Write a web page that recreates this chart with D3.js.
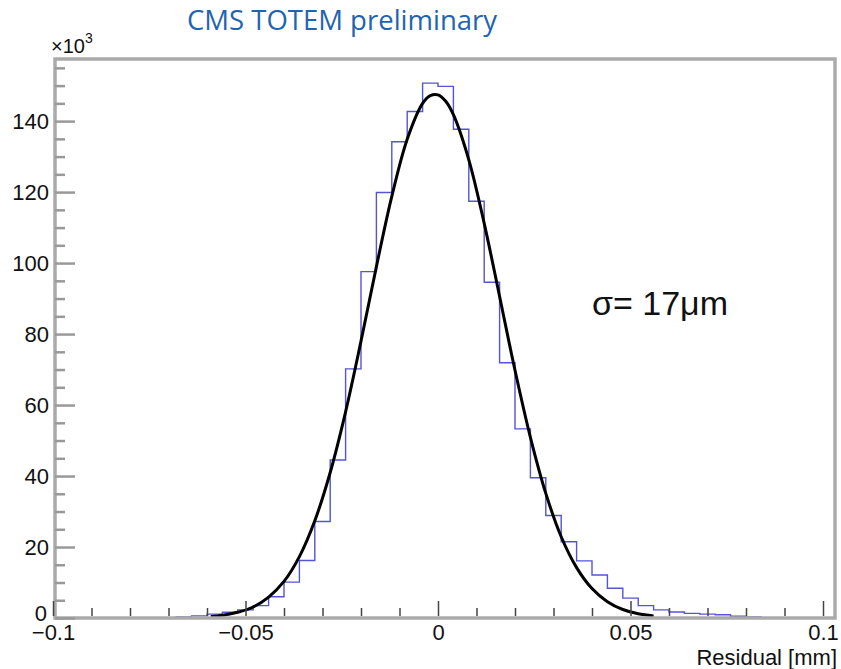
<!DOCTYPE html>
<html>
<head>
<meta charset="utf-8">
<script src="https://cdn.jsdelivr.net/npm/d3@7"></script>
<style>
    body { margin: 0; background: #fff; }
    svg { display: block; }
</style>
</head>
<body>
<div id="chart"></div>
<script>
// Histogram of residuals: lower bin edges [mm] and entries (x10^3)
var binWidth  = 0.004;
var binLow    = [-0.068, -0.064, -0.060, -0.056, -0.052, -0.048, -0.044, -0.040, -0.036, -0.032,
                 -0.028, -0.024, -0.020, -0.016, -0.012, -0.008, -0.004,  0.000,  0.004,  0.008,
                  0.012,  0.016,  0.020,  0.024,  0.028,  0.032,  0.036,  0.040,  0.044,  0.048,
                  0.052,  0.056,  0.060,  0.064,  0.068,  0.072,  0.076,  0.080];
var binCounts = [0.3, 0.6, 1.1, 1.6, 2.3, 3.5, 6.0, 10.1, 16.2, 27.2,
                 44.5, 70.2, 97.6, 119.9, 134.2, 142.7, 150.7, 149.8, 137.7, 117.4,
                 94.6, 71.9, 53.3, 39.5, 28.9, 21.5, 16.1, 12.1, 8.4, 5.6,
                 3.5, 2.3, 1.7, 1.3, 1.1, 0.9, 0.5, 0.3];

// Gaussian fit curve
var fitX = [-0.059, -0.056, -0.052, -0.048, -0.044, -0.040, -0.036, -0.032, -0.028, -0.024,
            -0.020, -0.016, -0.012, -0.008, -0.004, -0.002, 0.000, 0.002, 0.004, 0.008,
             0.012,  0.016,  0.020,  0.024,  0.028,  0.032, 0.036, 0.040, 0.044, 0.048,
             0.052,  0.056];
var fitY = [0.4, 0.8, 1.6, 3.1, 5.9, 10.3, 17.3, 27.4, 41.0, 58.1,
            78.0, 99.0, 118.8, 134.9, 145.0, 147.2, 147.4, 145.6, 141.8, 129.1,
            111.2, 90.6, 69.8, 50.9, 35.1, 22.9, 14.2, 8.3, 4.6, 2.4,
            1.2, 0.6];

// Axis ticks
var xMajorTicks = [-0.1, -0.05, 0, 0.05, 0.1];
var xMinorTicks = [-0.09, -0.08, -0.07, -0.06, -0.04, -0.03, -0.02, -0.01,
                    0.01, 0.02, 0.03, 0.04, 0.06, 0.07, 0.08, 0.09];
var yMajorTicks = [0, 20, 40, 60, 80, 100, 120, 140];
var yMinorTicks = [5, 10, 15, 25, 30, 35, 45, 50, 55, 65, 70, 75, 85, 90, 95,
                   105, 110, 115, 125, 130, 135, 145, 150, 155];

var titleText = "CMS TOTEM preliminary";
var sigmaText = "\u03c3= 17\u03bcm";
var xTitle    = "Residual [mm]";


//Size and frame
var width = 841, height = 669;
var frame = {left: 55, right: 835, top: 59, bottom: 618};

var svg = d3.select("#chart").append("svg")
    .attr("width", width)
    .attr("height", height);

svg.append("rect")
    .attr("width", width)
    .attr("height", height)
    .attr("fill", "#fff");

//Scales
var x = d3.scaleLinear()
    .domain([-0.1, 0.1])
    .range([53, 823]);

var y = d3.scaleLinear()
    .domain([0, 157.5])
    .range([frame.bottom, frame.top]);

var font = "'Liberation Sans', Arial, Helvetica, sans-serif";


//Histogram outline
var steps = [{x: binLow[0], y: 0}];
for(var i=0; i<binLow.length; i++) {
    steps.push({x: binLow[i], y: binCounts[i]});
}
steps.push({x: binLow[binLow.length-1] + binWidth, y: 0});

var stepLine = d3.line()
    .x(function(d) {return x(d.x);})
    .y(function(d) {return y(d.y);})
    .curve(d3.curveStepAfter);

svg.append("path")
    .attr("d", stepLine(steps))
    .attr("fill", "none")
    .attr("stroke", "#5454d6")
    .attr("stroke-width", 1.4);


//Fit curve
var fitLine = d3.line()
    .x(function(d, i) {return x(fitX[i]);})
    .y(function(d) {return y(d);})
    .curve(d3.curveCatmullRom);

svg.append("path")
    .attr("d", fitLine(fitY))
    .attr("fill", "none")
    .attr("stroke", "#000")
    .attr("stroke-width", 3);


//Frame
svg.append("rect")
    .attr("x", frame.left)
    .attr("y", frame.top)
    .attr("width", frame.right - frame.left)
    .attr("height", frame.bottom - frame.top)
    .attr("fill", "none")
    .attr("stroke", "#aaa")
    .attr("stroke-width", 3.5);


//Y axis (ticks point inside the frame)
var yAxis = d3.axisLeft(y)
    .tickValues(yMajorTicks)
    .tickSize(-20)
    .tickPadding(6);

var gy = svg.append("g")
    .attr("transform", "translate(" + frame.left + ",0)")
    .call(yAxis);

var yAxisMinor = d3.axisLeft(y)
    .tickValues(yMinorTicks)
    .tickSize(-10)
    .tickFormat("");

var gym = svg.append("g")
    .attr("transform", "translate(" + frame.left + ",0)")
    .call(yAxisMinor);

[gy, gym].forEach(function(g) {
    g.select(".domain").remove();
    g.selectAll(".tick line").attr("stroke", "#999").attr("stroke-width", 2.5);
});

gy.selectAll(".tick text")
    .attr("font-family", font)
    .attr("font-size", 22)
    .attr("fill", "#111")
    .attr("dy", "0.34em");

//the zero label sits a little higher and to the left, clear of -0.1
gy.selectAll(".tick text")
    .filter(function(d) {return d === 0;})
    .attr("dy", "0.1em")
    .attr("x", -8);


//X axis
var xAxis = d3.axisBottom(x)
    .tickValues(xMajorTicks)
    .tickSize(-15)
    .tickPadding(8)
    .tickFormat(function(d) {return d === 0 ? "0" : (d < 0 ? "\u2212" : "") + Math.abs(d);});

var gx = svg.append("g")
    .attr("transform", "translate(0," + (frame.bottom - 2) + ")")
    .call(xAxis);

var xAxisMinor = d3.axisBottom(x)
    .tickValues(xMinorTicks)
    .tickSize(-8)
    .tickFormat("");

var gxm = svg.append("g")
    .attr("transform", "translate(0," + (frame.bottom - 2) + ")")
    .call(xAxisMinor);

[gx, gxm].forEach(function(g) {
    g.select(".domain").remove();
    g.selectAll(".tick line").attr("stroke", "#444").attr("stroke-width", 1.5);
});

gx.selectAll(".tick text")
    .attr("font-family", font)
    .attr("font-size", 22)
    .attr("fill", "#111");


//Texts
svg.append("text")
    .attr("x", 837)
    .attr("y", 665)
    .attr("text-anchor", "end")
    .attr("font-family", font)
    .attr("font-size", 22)
    .attr("fill", "#111")
    .text(xTitle);

var mult = svg.append("text")
    .attr("x", 51)
    .attr("y", 53)
    .attr("font-family", font)
    .attr("font-size", 20)
    .attr("fill", "#111");
mult.append("tspan").text("\u00d710");
mult.append("tspan").attr("dy", -10).attr("font-size", 14).text("3");

svg.append("text")
    .attr("x", 187)
    .attr("y", 30)
    .attr("font-family", "'Open Sans', sans-serif")
    .attr("font-size", 27.5)
    .attr("fill", "#1f64b1")
    .text(titleText);

svg.append("text")
    .attr("x", 592)
    .attr("y", 315)
    .attr("font-family", font)
    .attr("font-size", 34)
    .attr("fill", "#111")
    .text(sigmaText);
</script>
</body>
</html>
